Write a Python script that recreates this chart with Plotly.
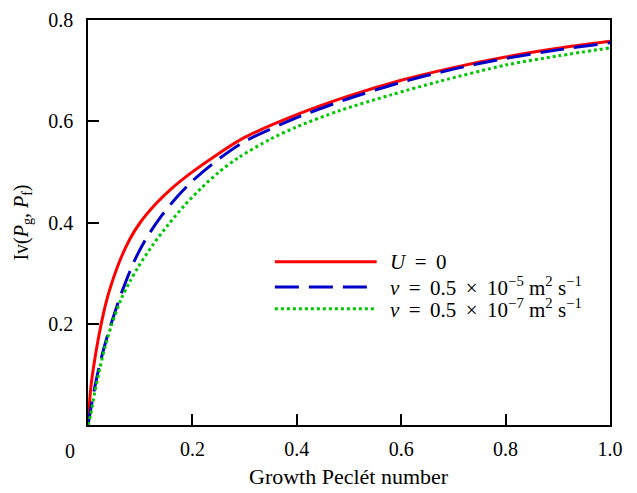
import plotly.graph_objects as go

# values
x_u0 = [0, 0.005, 0.010, 0.020, 0.030, 0.040, 0.060, 0.080, 0.100, 0.130, 0.160, 0.200, 0.250, 0.300, 0.400, 0.500, 0.600, 0.700, 0.800, 0.900, 1.0]
y_u0 = [0, 0.070, 0.110, 0.172, 0.222, 0.262, 0.322, 0.367, 0.400, 0.437, 0.467, 0.500, 0.536, 0.568, 0.613, 0.650, 0.681, 0.706, 0.727, 0.744, 0.758]

x_v5 = [0, 0.005, 0.013, 0.023, 0.036, 0.050, 0.065, 0.087, 0.110, 0.140, 0.170, 0.200, 0.250, 0.300, 0.400, 0.500, 0.600, 0.700, 0.800, 0.900, 1.0]
y_v5 = [0, 0.030, 0.075, 0.122, 0.172, 0.218, 0.263, 0.320, 0.366, 0.412, 0.450, 0.482, 0.525, 0.560, 0.607, 0.645, 0.677, 0.703, 0.724, 0.741, 0.755]

x_v7 = [0, 0.005, 0.013, 0.023, 0.032, 0.045, 0.064, 0.080, 0.096, 0.125, 0.154, 0.185, 0.217, 0.250, 0.288, 0.350, 0.400, 0.482, 0.580, 0.674, 0.800, 0.900, 1.0]
y_v7 = [0, 0.020, 0.065, 0.113, 0.152, 0.197, 0.250, 0.283, 0.312, 0.357, 0.396, 0.434, 0.468, 0.499, 0.528, 0.565, 0.589, 0.621, 0.652, 0.679, 0.711, 0.729, 0.745]

T = "\u2009"  # thin space, for math-like spacing around = and ×
names = ["<i>U</i> " + T + "=" + T + " 0",
         "<i>v</i> " + T + "=" + T + " 0.5 " + T + "×" + T + " 10<sup>−5</sup> m<sup>2</sup> s<sup>−1</sup>",
         "<i>v</i> " + T + "=" + T + " 0.5 " + T + "×" + T + " 10<sup>−7</sup> m<sup>2</sup> s<sup>−1</sup>"]
colors = ["#ff0000", "#0000c8", "#00c800"]
dashes = ["solid", "24px,10px", "dot"]

x_ticks = [0.2, 0.4, 0.6, 0.8, 1.0]
x_ticktext = ["0.2", "0.4", "0.6", "0.8", "1.0"]
y_ticks = [0.2, 0.4, 0.6, 0.8]
y_ticktext = ["0.2", "0.4", "0.6", "0.8"]

FONT = "Liberation Serif, Times New Roman, serif"

fig = go.Figure()
for xs, ys, name, c, d in zip([x_u0, x_v5, x_v7], [y_u0, y_v5, y_v7], names, colors, dashes):
    fig.add_trace(go.Scatter(
        x=xs, y=ys, mode="lines", name=name,
        line=dict(color=c, width=3, dash=d, shape="spline", smoothing=0.8),
        showlegend=False,
    ))

# hand-drawn legend (long sample lines like the original)
leg_y = [0.403, 0.341, 0.287]
for name, c, d, ly in zip(names, colors, dashes, leg_y):
    fig.add_shape(type="line", xref="paper", yref="paper",
                  x0=0.358, x1=0.553, y0=ly, y1=ly,
                  line=dict(color=c, width=3, dash=d))
    fig.add_annotation(xref="paper", yref="paper", x=0.574, y=ly,
                       text=name, showarrow=False, xanchor="left", yanchor="middle",
                       font=dict(family=FONT, size=21, color="black"))

# shared origin label
fig.add_annotation(xref="paper", yref="paper", x=-0.035, y=-0.064,
                   text="0", showarrow=False, xanchor="center", yanchor="middle",
                   font=dict(family=FONT, size=20, color="black"))

# x axis title
fig.add_annotation(xref="paper", yref="paper", x=0.5, y=-0.128,
                   text="Growth Peclét number", showarrow=False,
                   xanchor="center", yanchor="middle",
                   font=dict(family=FONT, size=22, color="black"))

axis_common = dict(
    showgrid=False, zeroline=False, showline=True, linecolor="black", linewidth=1.5,
    mirror=True, ticks="inside", ticklen=11, tickwidth=1.5, tickcolor="black",
    tickfont=dict(family=FONT, size=20, color="black"),
)
fig.update_xaxes(range=[0, 1.0], tickvals=x_ticks, ticktext=x_ticktext,
                 ticklabelstandoff=5, **axis_common)
fig.update_yaxes(range=[0, 0.8], tickvals=y_ticks, ticktext=y_ticktext,
                 ticklabelstandoff=9,
                 title=dict(text="Iv(<i>P</i><sub>g</sub>, <i>P</i><sub>f</sub>)", standoff=14,
                            font=dict(family=FONT, size=20, color="black")),
                 **axis_common)

# page body has an 8px margin, so the figure is offset inside the window
fig.update_layout(
    width=621, height=485,
    margin=dict(l=80, r=19, t=12, b=68, autoexpand=False),
    paper_bgcolor="white", plot_bgcolor="white",
    font=dict(family=FONT, size=19, color="black"),
)

fig.write_html("out.html")
